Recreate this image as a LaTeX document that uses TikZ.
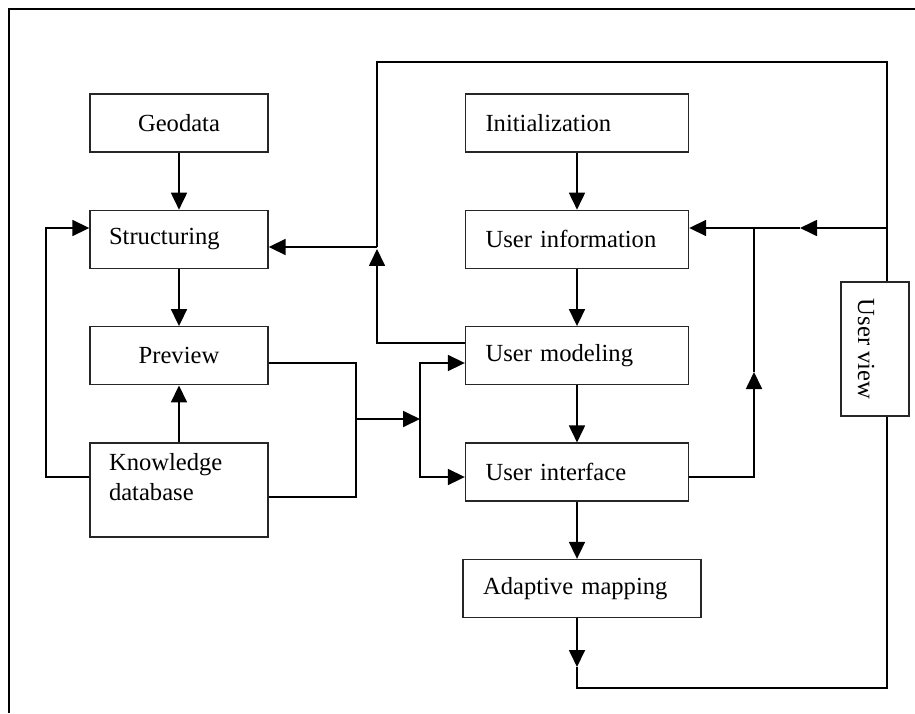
\documentclass[tikz,border=0pt]{standalone}
\usepackage{fontspec}
\setmainfont{Liberation Serif}
\usetikzlibrary{arrows.meta, positioning}
\tikzset{
  blockbox/.style={draw=black!85, rectangle, line width=0.8pt, minimum height=1.16cm,
    inner xsep=0.38cm, text width=2.8cm, align=left},
  widebox/.style={blockbox, inner xsep=0.4cm, text width=3.66cm},
  flow/.style={line width=1pt},
}

\begin{document}
\begin{tikzpicture}[x=0.02cm, y=-0.02cm, >={Triangle[length=0.34cm, width=0.32cm]},
  node distance=1.14cm, every node/.style={font=\fontsize{14}{17}\selectfont}]
\useasboundingbox (0,0) rectangle (915,713);
% frame
\draw[line width=1.6pt] (9,713) -- (9,9) -- (915,9);

% left column
\node[blockbox, align=center] (geodata) at (179,123) {Geodata};
\node[blockbox, below=of geodata] (structuring) {Structuring};
\node[blockbox, align=center, below=of structuring] (preview) {Preview};
\node[blockbox, minimum height=1.88cm, below=of preview] (kdb)
  {\raisebox{4pt}[0pt][0pt]{\parbox[c]{2.8cm}{Knowledge\\database}}};

% right column
\node[widebox] (init) at (577,123) {Initialization};
\node[widebox, below=of init] (uinfo) {User information};
\node[widebox, below=of uinfo] (umodel) {User modeling};
\node[widebox, below=of umodel] (uinterface) {User interface};
\node[widebox, text width=3.96cm, below=of uinterface, xshift=0.1cm] (adaptive) {Adaptive mapping};
\node[draw=black!85, line width=0.8pt, minimum width=1.36cm, minimum height=2.68cm] (uview) at (875,349)
  {\rotatebox{-90}{\raisebox{-5pt}[\height][\depth]{User view}}};

% junctions
\coordinate (topR) at (887,62);
\coordinate (topL) at (377,62);
\coordinate (jS) at (377,247);
\coordinate (jUI) at (887,228);
\coordinate (jB) at (754,228);
\coordinate (mUI) at (800,228);
\coordinate (mB) at (754,372);
\coordinate (mA) at (577,667);
\coordinate (bot) at (577,688);
\coordinate (botR) at (887,688);
\coordinate (jM) at (356,419);
\coordinate (jK) at (420,419);
\coordinate (jL) at (46,228);

% left column flow
\draw[flow, ->] (geodata) -- (structuring);
\draw[flow, ->] (structuring) -- (preview);
\draw[flow, ->] (kdb) -- (preview);
\draw[flow, ->] (kdb.west |- 0,477) -- (46,477) -- (jL) -- (structuring.west |- jL);
\draw[flow] (preview.east |- 0,363) -- (356,363) -- (356,497) -- (kdb.east |- 0,497);
\draw[flow, ->] (jM) -- (jK);
\draw[flow, ->] (jK) -- (420,363) -- (umodel.west |- 0,363);
\draw[flow, ->] (jK) -- (420,477) -- (uinterface.west |- 0,477);

% right column flow
\draw[flow, ->] (init) -- (uinfo);
\draw[flow, ->] (uinfo) -- (umodel);
\draw[flow, ->] (umodel) -- (uinterface);
\draw[flow, ->] (uinterface.south) -- (uinterface.south |- adaptive.north);
\draw[flow, ->] (mA |- adaptive.south) -- (mA);
\draw[flow] (mA) -- (bot) -- (botR) -- (botR |- uview.south);
\draw[flow] (topR |- uview.north) -- (topR) -- (topL) -- (jS);
\draw[flow, ->] (jS) -- (structuring.east |- jS);
\draw[flow, ->] (umodel.west |- 0,343) -- (377,343) -- (377,249);
\draw[flow, ->] (uinterface.east |- 0,477) -- (754,477) -- (mB);
\draw[flow] (mB) -- (jB);
\draw[flow, ->] (jUI) -- (mUI);
\draw[flow, ->] (mUI) -- (uinfo.east |- mUI);
\end{tikzpicture}
\end{document}
